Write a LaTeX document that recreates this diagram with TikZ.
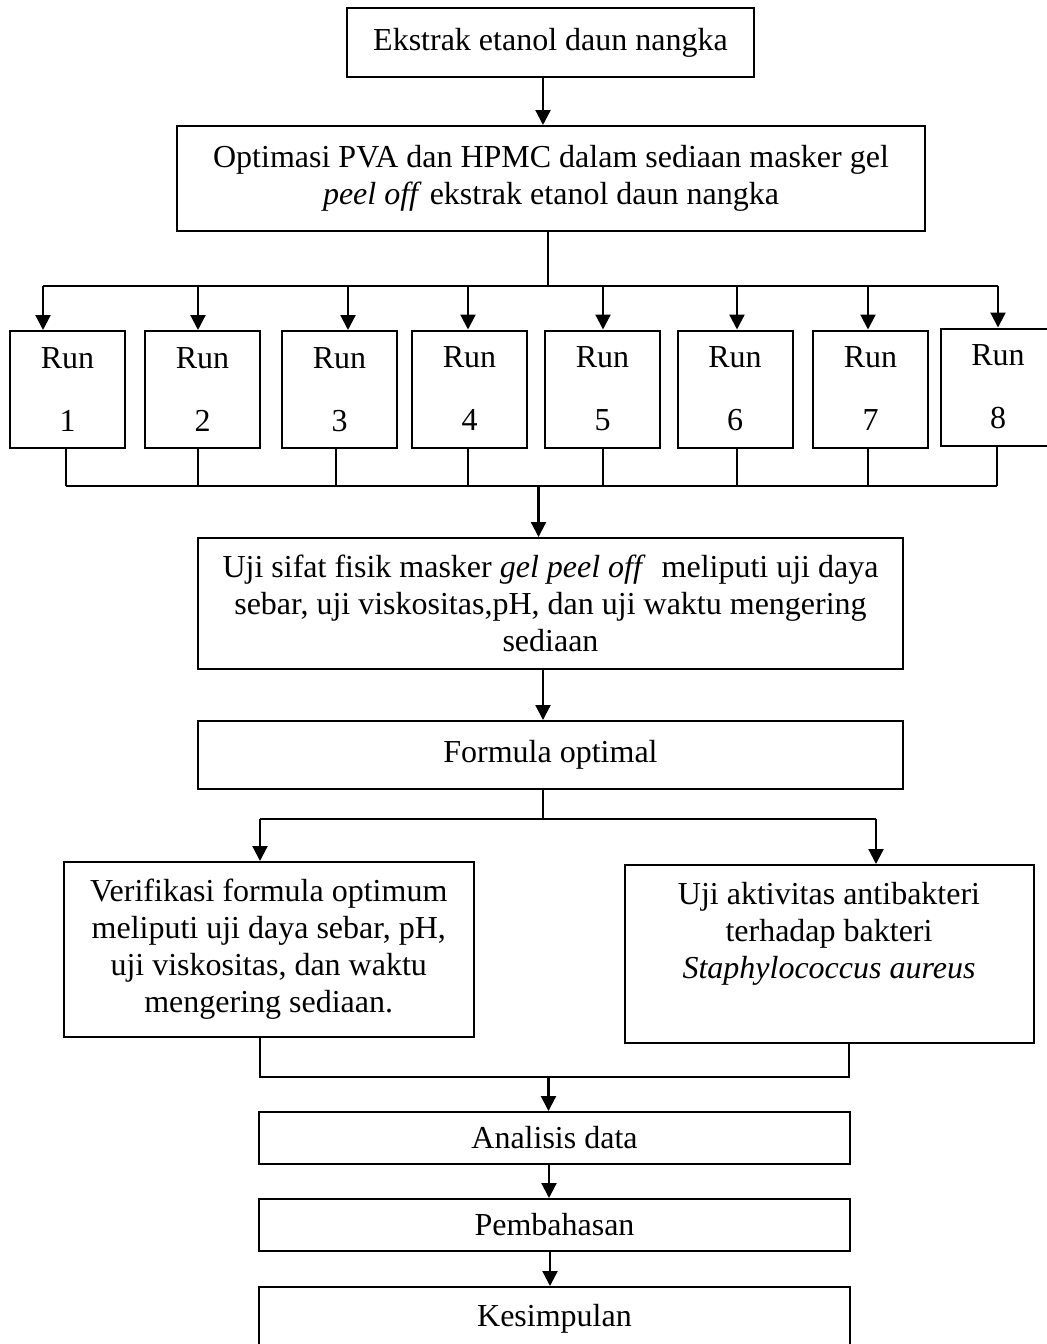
\documentclass[tikz,border=0pt]{standalone}
\usepackage{fontspec}
\setmainfont{Liberation Serif}
\usetikzlibrary{arrows.meta}

\begin{document}
\begin{tikzpicture}[x=0.5pt,y=-0.5pt,
  box/.style={draw,line width=1pt,inner sep=0pt,align=center,font=\fontsize{16}{18.5}\selectfont},
  runbox/.style={box,minimum width=57.5pt,minimum height=58.5pt},
  arr/.style={line width=1.1pt,-{Triangle[length=7.5pt,width=7.5pt]}},
  ln/.style={line width=1pt}]
\useasboundingbox (0,0) rectangle (1047,1344);
% kotak utama
\node[box,minimum width=203.5pt,minimum height=34.5pt] (ek) at (550.5,42.5) {Ekstrak etanol daun nangka};
\node[box,minimum width=374pt,minimum height=52.5pt] (opt) at (551,178.5)
  {Optimasi PVA dan HPMC dalam sediaan masker gel\\\textit{peel off} ekstrak etanol daun nangka};
\node[box,minimum width=352.5pt,minimum height=65.5pt] (us) at (550.5,603.5)
  {Uji sifat fisik masker \textit{gel peel off}~ meliputi uji daya\\sebar, uji viskositas,pH, dan uji waktu mengering\\sediaan};
\node[box,minimum width=352.5pt,minimum height=34pt] (fo) at (550.5,755) {Formula optimal};
\node[box,minimum width=204.75pt,minimum height=87.5pt] (ve) at (268.75,949.5)
  {Verifikasi formula optimum\\meliputi uji daya sebar, pH,\\uji viskositas, dan waktu\\mengering sediaan.};
\node[box,minimum width=204.5pt,minimum height=89pt] (ua) at (829,954)
  {Uji aktivitas antibakteri\\terhadap bakteri\\\textit{Staphylococcus aureus}\\\strut};
\node[box,minimum width=295.5pt,minimum height=26pt] (an) at (554.5,1138) {Analisis data};
\node[box,minimum width=295.5pt,minimum height=26pt] (pe) at (554.5,1225) {Pembahasan};
\node[box,minimum width=295.5pt,minimum height=31.5pt] (ke) at (554.5,1318.5) {Kesimpulan};
% run 1--8
\foreach \i/\cx/\cy/\ta/\tb in {1/67.5/389.5/43/66,2/202.5/389.5/198/198,3/339.5/389.5/348/336,
  4/469.5/389/468/468,5/602.5/389/603/603,6/735/389/737/737,7/870.5/389/868/868,8/998/387/998/997}{
  \node[runbox] (r\i) at (\cx,\cy) {Run\\[13pt]\i};
  \coordinate (t\i) at (\ta,286);
  \coordinate (b\i) at (\tb,486);
  \draw[arr] (t\i) -- (t\i |- r\i.north);
  \draw[ln] (b\i |- r\i.south) -- (b\i);
}
\coordinate (j0) at (548,286);
\coordinate (j1) at (538.5,486);
\coordinate (j2) at (543,819);
\coordinate (l1) at (260,819);
\coordinate (l2) at (876,819);
\coordinate (m1) at (260,1077);
\coordinate (m2) at (849,1077);
\coordinate (j3) at (548.5,1077);
% garis penghubung
\draw[arr] ([xshift=-3.75pt]ek.south) -- ([xshift=-3.75pt]ek.south |- opt.north);
\draw[ln] (opt.south -| j0) -- (j0);
\draw[ln] (t1) -- (t8);
\draw[ln] (b1) -- (b8);
\draw[arr] (j1) -- (j1 |- us.north);
\draw[arr] ([xshift=-3.75pt]us.south) -- ([xshift=-3.75pt]us.south |- fo.north);
\draw[ln] (fo.south -| j2) -- (j2);
\draw[ln] (l1) -- (l2);
\draw[arr] (l1) -- (l1 |- ve.north);
\draw[arr] (l2) -- (l2 |- ua.north);
\draw[ln] (ve.south -| m1) -- (m1) -- (m2) -- (m2 |- ua.south);
\draw[arr] (j3) -- (j3 |- an.north);
\draw[arr] ([xshift=-2.75pt]an.south) -- ([xshift=-2.75pt]an.south |- pe.north);
\draw[arr] ([xshift=-2.25pt]pe.south) -- ([xshift=-2.25pt]pe.south |- ke.north);
\end{tikzpicture}
\end{document}
